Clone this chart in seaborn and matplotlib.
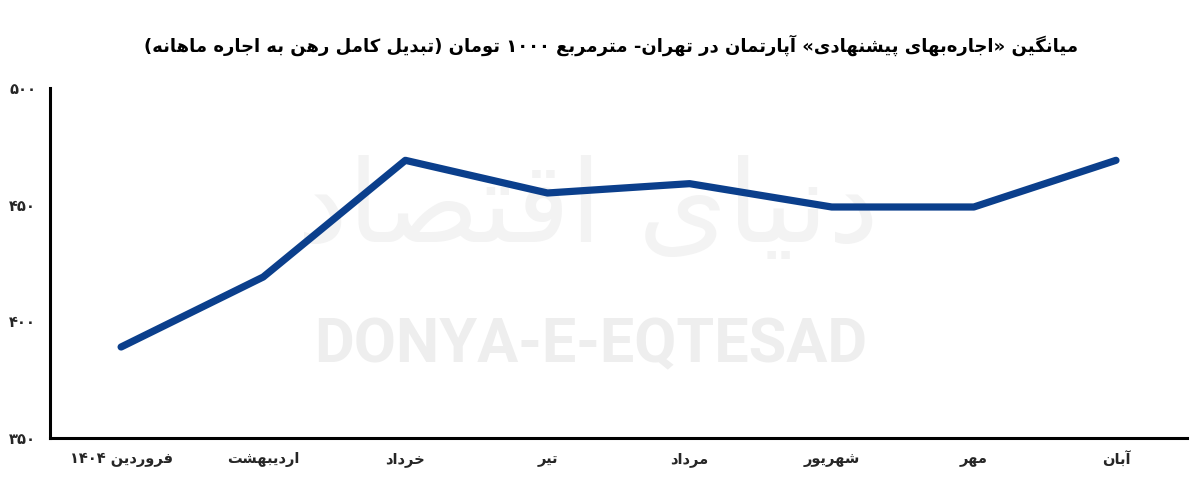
import re
import matplotlib
matplotlib.use("Agg")
import matplotlib.pyplot as plt
import seaborn as sns
import pandas as pd

# ---------------- data ----------------
months = ["فروردین ۱۴۰۴", "اردیبهشت", "خرداد", "تیر", "مرداد", "شهریور", "مهر", "آبان"]
rent = [389, 419, 469, 455, 459, 449, 449, 469]
y_ticks = [350, 400, 450, 500]
y_tick_labels = ["۳۵۰", "۴۰۰", "۴۵۰", "۵۰۰"]
title = "میانگین «اجاره‌بهای پیشنهادی» آپارتمان در تهران- مترمربع ۱۰۰۰ تومان (تبدیل کامل رهن به اجاره ماهانه)"
watermark_en = "DONYA-E-EQTESAD"
watermark_fa = "دنیای اقتصاد"

# ------------- minimal Persian shaping + RTL ordering -------------
FORMS = {
    'ا': ('\uFE8D', '\uFE8E', None, None),
    'آ': ('\uFE81', '\uFE82', None, None),
    'ب': ('\uFE8F', '\uFE90', '\uFE91', '\uFE92'),
    'پ': ('\uFB56', '\uFB57', '\uFB58', '\uFB59'),
    'ت': ('\uFE95', '\uFE96', '\uFE97', '\uFE98'),
    'ث': ('\uFE99', '\uFE9A', '\uFE9B', '\uFE9C'),
    'ج': ('\uFE9D', '\uFE9E', '\uFE9F', '\uFEA0'),
    'چ': ('\uFB7A', '\uFB7B', '\uFB7C', '\uFB7D'),
    'ح': ('\uFEA1', '\uFEA2', '\uFEA3', '\uFEA4'),
    'خ': ('\uFEA5', '\uFEA6', '\uFEA7', '\uFEA8'),
    'د': ('\uFEA9', '\uFEAA', None, None),
    'ذ': ('\uFEAB', '\uFEAC', None, None),
    'ر': ('\uFEAD', '\uFEAE', None, None),
    'ز': ('\uFEAF', '\uFEB0', None, None),
    'ژ': ('\uFB8A', '\uFB8B', None, None),
    'س': ('\uFEB1', '\uFEB2', '\uFEB3', '\uFEB4'),
    'ش': ('\uFEB5', '\uFEB6', '\uFEB7', '\uFEB8'),
    'ص': ('\uFEB9', '\uFEBA', '\uFEBB', '\uFEBC'),
    'ض': ('\uFEBD', '\uFEBE', '\uFEBF', '\uFEC0'),
    'ط': ('\uFEC1', '\uFEC2', '\uFEC3', '\uFEC4'),
    'ظ': ('\uFEC5', '\uFEC6', '\uFEC7', '\uFEC8'),
    'ع': ('\uFEC9', '\uFECA', '\uFECB', '\uFECC'),
    'غ': ('\uFECD', '\uFECE', '\uFECF', '\uFED0'),
    'ف': ('\uFED1', '\uFED2', '\uFED3', '\uFED4'),
    'ق': ('\uFED5', '\uFED6', '\uFED7', '\uFED8'),
    'ک': ('\uFB8E', '\uFB8F', '\uFB90', '\uFB91'),
    'گ': ('\uFB92', '\uFB93', '\uFB94', '\uFB95'),
    'ل': ('\uFEDD', '\uFEDE', '\uFEDF', '\uFEE0'),
    'م': ('\uFEE1', '\uFEE2', '\uFEE3', '\uFEE4'),
    'ن': ('\uFEE5', '\uFEE6', '\uFEE7', '\uFEE8'),
    'و': ('\uFEED', '\uFEEE', None, None),
    'ه': ('\uFEE9', '\uFEEA', '\uFEEB', '\uFEEC'),
    'ی': ('\uFBFC', '\uFBFD', '\uFBFE', '\uFBFF'),
}
MIRROR = {'(': ')', ')': '(', '«': '»', '»': '«'}


def shape(s):
    out = []
    n = len(s)
    for i, c in enumerate(s):
        if c not in FORMS:
            out.append(c)
            continue
        prev = s[i - 1] if i > 0 else ''
        nxt = s[i + 1] if i + 1 < n else ''
        jp = prev in FORMS and FORMS[prev][2] is not None
        jn = FORMS[c][2] is not None and nxt in FORMS
        iso, fin, ini, med = FORMS[c]
        if jp and jn:
            out.append(med)
        elif jp:
            out.append(fin)
        elif jn:
            out.append(ini)
        else:
            out.append(iso)
    return ''.join(ch for ch in out if ch != '\u200c')


def rtl(s):
    tokens = re.findall(r'[0-9۰-۹A-Za-z]+|.', shape(s))
    return ''.join(MIRROR.get(t, t) for t in tokens[::-1])


# ---------------- plot ----------------
sns.set_style("white")
plt.rcParams['font.family'] = ['DejaVu Sans']

df = pd.DataFrame({"pos": list(range(len(months))), "rent": rent})

fig = plt.figure(figsize=(12, 4.79), dpi=100)
ax = fig.add_axes([0.0417, 0.0856, 0.9475, 0.7307])

# watermarks (drawn inside the axes, beneath the line)
ax.text(0.49, 0.56, rtl(watermark_fa), transform=fig.transFigure, fontsize=82,
        fontweight='normal', color='#f3f3f3', ha='center', va='center', zorder=1)
ax.text(0.492, 0.28, watermark_en, transform=fig.transFigure, family='Roboto',
        fontsize=44, fontweight='bold', color='#eeeeee', ha='center', va='center', zorder=1)

sns.lineplot(data=df, x="pos", y="rent", ax=ax, color='#0b3f8c', linewidth=5.2,
             solid_capstyle='round', zorder=3)

ax.set_xlim(-0.5, len(months) - 0.5)
ax.set_ylim(350, 500)
ax.set_xticks(range(len(months)))
ax.set_xticklabels([rtl(m) for m in months], fontsize=10.5, fontweight='bold')
ax.set_yticks(y_ticks)
ax.set_yticklabels(y_tick_labels, fontsize=10.5, fontweight='bold')
ax.tick_params(axis='both', length=0)
ax.tick_params(axis='x', pad=10)
ax.tick_params(axis='y', pad=10)
ax.set_xlabel("")
ax.set_ylabel("")

for side in ["top", "right"]:
    ax.spines[side].set_visible(False)
for side in ["left", "bottom"]:
    ax.spines[side].set_color('black')
    ax.spines[side].set_linewidth(2.2)
    ax.spines[side].set_zorder(4)

fig.text(0.509, 0.906, rtl(title), fontsize=13, fontweight='bold',
         ha='center', va='center', color='black')

fig.savefig("out.png", dpi=100, facecolor='white')
